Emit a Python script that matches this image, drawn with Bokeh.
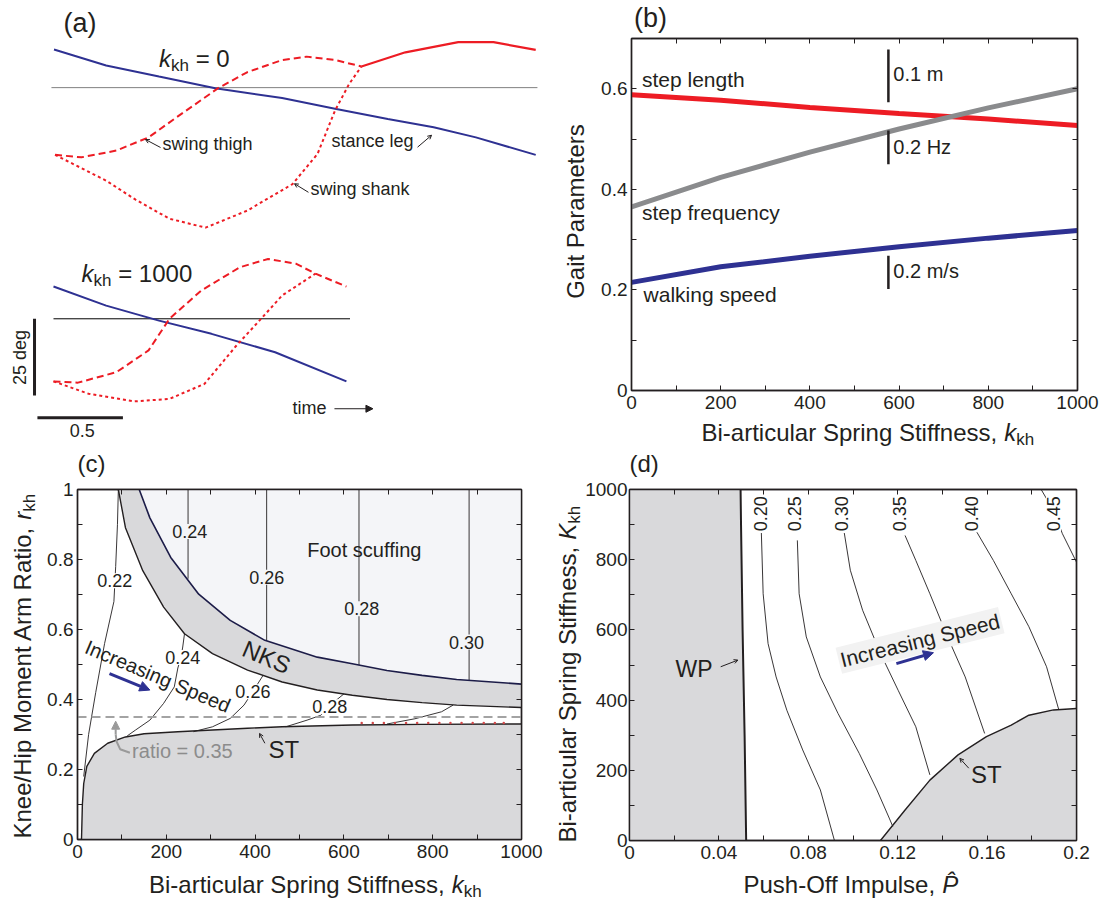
import numpy as np
from bokeh.plotting import figure
from bokeh.layouts import column, row
from bokeh.models import Range1d, Label, Arrow, NormalHead, OpenHead, FixedTicker, LinearAxis
from bokeh.embed import file_html
from bokeh.resources import INLINE

FONT = "Liberation Sans"
INK = "#231f20"
RED = "#ed1c24"
BLUE = "#2e3192"
GREY_LINE = "#8a8b8d"
GRAY_FILL = "#d9d9db"
SCUFF_FILL = "#f4f5f8"

# ---------------- panel (a): joint angle traces (time units, degrees) ----------------
TOP_OFF = 75.3  # vertical offset of the k_kh = 0 traces (deg)
a0_stance_t = [0.003, 0.308, 0.617, 0.946, 1.337, 1.646, 1.955, 2.223, 2.470, 2.820]
a0_stance_d = [12.4, 7.2, 3.6, -0.2, -3.4, -6.9, -10.2, -12.9, -16.2, -21.9]
a0_thigh_t = [0.009, 0.164, 0.368, 0.556, 0.719, 0.965, 1.132, 1.337, 1.480, 1.646, 1.801]
a0_thigh_d = [-21.9, -22.7, -20.5, -16.2, -9.7, -0.1, 5.0, 9.0, 10.1, 9.0, 6.9]
a0_locked_t = [1.801, 2.058, 2.367, 2.573, 2.820]
a0_locked_d = [6.9, 11.5, 14.8, 14.8, 12.3]
a0_shank_t = [0.009, 0.308, 0.48, 0.678, 0.889, 1.132, 1.398, 1.544, 1.646, 1.729, 1.801]
a0_shank_d = [-21.9, -30.3, -36.5, -42.7, -45.6, -40.1, -31.4, -21.6, -7.5, 1.2, 6.9]

a1_stance_t = [0, 0.308, 0.617, 0.924, 1.296, 1.713]
a1_stance_d = [10.5, 4.3, -0.6, -4.9, -10.9, -20.4]
a1_thigh_t = [0, 0.143, 0.368, 0.556, 0.678, 0.864, 1.090, 1.255, 1.420, 1.532, 1.713]
a1_thigh_d = [-20.4, -20.8, -17.4, -10.3, 0, 9.2, 16.8, 19.5, 17.9, 14.7, 10.5]
a1_shank_t = [0, 0.205, 0.473, 0.678, 0.883, 1.070, 1.214, 1.337, 1.532]
a1_shank_d = [-20.4, -24.4, -26.9, -26.1, -21.2, -8.7, 0, 7.6, 14.7]

# ---------------- panel (b): gait parameters ----------------
b_k = [0, 200, 400, 600, 800, 1000]
step_length = [0.588, 0.577, 0.563, 0.551, 0.540, 0.527]
step_freq = [0.365, 0.424, 0.474, 0.520, 0.562, 0.600]
walk_speed = [0.215, 0.246, 0.267, 0.286, 0.303, 0.318]
b_bar_x = 576
b_bars = [(0.573, 0.678, "0.1 m", 0.630), (0.450, 0.517, "0.2 Hz", 0.484), (0.202, 0.268, "0.2 m/s", 0.237)]

# ---------------- panel (c): k_kh vs r_kh ----------------
st_c_k = [9, 11, 14, 21, 38, 68, 108, 150, 226, 304, 383, 461, 619, 776, 1000]
st_c_r = [0, 0.10, 0.16, 0.209, 0.246, 0.275, 0.293, 0.302, 0.308, 0.313, 0.318, 0.322, 0.327, 0.329, 0.330]
nks_lo_k = [92, 108, 147, 194, 241, 304, 383, 461, 540, 619, 697, 776, 854, 1000]
nks_lo_r = [1.0, 0.891, 0.768, 0.664, 0.588, 0.531, 0.484, 0.450, 0.427, 0.412, 0.400, 0.391, 0.384, 0.377]
nks_hi_k = [139, 163, 210, 273, 344, 422, 540, 619, 697, 776, 854, 1000]
nks_hi_r = [1.0, 0.919, 0.806, 0.701, 0.626, 0.569, 0.521, 0.502, 0.483, 0.469, 0.457, 0.444]
c_contours = [
    ([92, 90, 86, 82, 61, 41, 25, 14], [1.0, 0.90, 0.78, 0.68, 0.56, 0.42, 0.30, 0.18]),
    ([249, 249], [1.0, 0.745]),
    ([241, 237, 233, 226, 218, 194, 163, 131, 112], [0.588, 0.55, 0.52, 0.49, 0.436, 0.389, 0.341, 0.313, 0.296]),
    ([426, 426], [1.0, 0.567]),
    ([418, 397, 375, 344, 304, 261], [0.469, 0.427, 0.384, 0.346, 0.322, 0.308]),
    ([634, 634], [1.0, 0.498]),
    ([469, 517, 548, 575, 600], [0.322, 0.341, 0.355, 0.39, 0.416]),
    ([882, 882], [1.0, 0.455]),
    ([697, 760, 820, 846], [0.330, 0.345, 0.365, 0.384]),
]
c_labels = [("0.22", 84, 0.739, "white"), ("0.24", 253, 0.88, SCUFF_FILL), ("0.24", 237, 0.52, "white"),
            ("0.26", 426, 0.749, SCUFF_FILL), ("0.26", 395, 0.422, "white"), ("0.28", 640, 0.659, SCUFF_FILL),
            ("0.28", 568, 0.379, "white"), ("0.30", 876, 0.564, SCUFF_FILL)]
ratio_line = 0.35
c_dots_k = [640, 665, 690, 715, 740, 765, 790, 815, 840, 865, 890, 915, 940, 960]
c_dots_r = [0.333] * len(c_dots_k)

# ---------------- panel (d): P vs K_kh ----------------
wp_P = [0.0497, 0.0499, 0.0506, 0.0515, 0.0522]
wp_K = [1000, 900, 600, 300, 0]
st_d_P = [0.1123, 0.1233, 0.1344, 0.1470, 0.1597, 0.1708, 0.1787, 0.1897, 0.2]
st_d_K = [0, 87, 172, 244, 296, 329, 357, 372, 376]
d_contours = [
    ([0.0590, 0.0598, 0.0620, 0.0656, 0.0704, 0.0775, 0.0854, 0.0917], [876, 703, 561, 466, 371, 258, 144, 0]),
    ([0.0751, 0.0759, 0.0791, 0.0854, 0.0933, 0.1028, 0.1107, 0.1162, 0.1178], [855, 703, 580, 466, 362, 248, 144, 64, 40]),
    ([0.0961, 0.0988, 0.1043, 0.1123, 0.1202, 0.1281, 0.1344], [876, 770, 656, 533, 428, 324, 187]),
    ([0.1233, 0.1281, 0.1344, 0.1423, 0.1502, 0.1589], [869, 798, 703, 580, 466, 305]),
    ([0.1550, 0.1628, 0.1708, 0.1787, 0.1866, 0.1921], [883, 798, 703, 609, 495, 372]),
    ([0.1842, 0.1897, 0.1937, 0.2], [1000, 940, 874, 793]),
]
d_labels = [("0.20", 0.0585), ("0.25", 0.0740), ("0.30", 0.0949), ("0.35", 0.1209), ("0.40", 0.1529), ("0.45", 0.1897)]
d_label_K = 931

# ---------------- helpers ----------------
W = {' ': 278, ',': 278, '-': 333, '/': 278, '=': 584, '.': 278, 'a': 556, 'b': 556, 'c': 500, 'd': 556,
     'e': 556, 'f': 278, 'g': 556, 'h': 556, 'i': 222, 'k': 500, 'l': 222, 'm': 833, 'n': 556, 'o': 556,
     'p': 556, 'r': 333, 's': 500, 't': 278, 'u': 556, 'w': 722, 'A': 667, 'B': 667, 'H': 722, 'I': 278,
     'K': 667, 'M': 833, 'O': 778, 'P': 667, 'R': 722, 'S': 667}


def tw(s, size):
    return sum(W.get(c, 556) for c in s) * size / 1000.0


def L(p, x, y, text, size, align="left", baseline="middle", angle=0, color=INK, style="normal",
      xo=0, yo=0, bg=None, pad=0):
    kw = dict(x=x, y=y, text=text, text_font=FONT, text_font_size=f"{size}px", text_align=align,
              text_baseline=baseline, angle=angle, text_color=color, text_font_style=style,
              x_offset=xo, y_offset=yo)
    if bg is not None:
        kw.update(background_fill_color=bg, padding=pad)
    p.add_layout(Label(**kw))


def composite(p, x, y, parts, angle=0):
    off = 0.0
    for text, size, style, shift in parts:
        body = text.lstrip(" ")
        off += tw(text[:len(text) - len(body)], size)
        if angle == 0:
            xo, yo = off, shift
        else:
            xo, yo = -shift, off
        L(p, x, y, body.rstrip(" "), size, baseline="middle", angle=angle, style=style, xo=xo, yo=yo)
        off += tw(body, size)


def arrow(p, x0, y0, x1, y1, color=INK, lw=1.0, size=6, kind="open"):
    if kind == "open":
        head = OpenHead(size=size, line_color=color, line_width=lw)
    else:
        head = NormalHead(size=size, fill_color=color, line_color=color)
    p.add_layout(Arrow(end=head, x_start=x0, y_start=y0, x_end=x1, y_end=y1,
                       line_color=color, line_width=lw))


def bare(w, h, xr, yr, left=0, right=0):
    p = figure(width=w, height=h, x_range=Range1d(*xr), y_range=Range1d(*yr),
               output_backend="svg", toolbar_location=None,
               min_border_left=left, min_border_right=right, min_border_top=0, min_border_bottom=0,
               x_axis_location=None, y_axis_location=None)
    p.grid.visible = False
    p.outline_line_color = None
    p.background_fill_color = "white"
    p.border_fill_color = "white"
    return p


def make_fig(w, h, xr, yr, left, right, top, bottom):
    p = figure(width=w, height=h, x_range=Range1d(*xr), y_range=Range1d(*yr),
               output_backend="svg", toolbar_location=None,
               min_border_left=left, min_border_right=right,
               min_border_top=top, min_border_bottom=bottom)
    p.grid.visible = False
    p.background_fill_color = "white"
    p.border_fill_color = "white"
    return p


def style_axes(p, xt, xminor, xlab, yt, yminor, ylab, ystand=4):
    p.xaxis.ticker = FixedTicker(ticks=xt, minor_ticks=xminor)
    p.yaxis.ticker = FixedTicker(ticks=yt, minor_ticks=yminor)
    p.xaxis.major_label_overrides = dict(zip(xt, xlab))
    p.yaxis.major_label_overrides = dict(zip(yt, ylab))
    for ax in p.axis:
        ax.major_tick_in = 5
        ax.major_tick_out = 0
        ax.minor_tick_in = 5
        ax.minor_tick_out = 0
        ax.axis_line_color = INK
        ax.axis_line_width = 1.4
        ax.major_tick_line_color = INK
        ax.minor_tick_line_color = INK
        ax.major_label_text_font = FONT
        ax.major_label_text_font_size = "19px"
        ax.major_label_text_color = INK
    p.xaxis.major_label_standoff = 5
    p.yaxis.major_label_standoff = ystand
    for loc, ticks, minor in (("above", xt, xminor), ("right", yt, yminor)):
        ax = LinearAxis(ticker=FixedTicker(ticks=ticks, minor_ticks=minor),
                        major_label_overrides={t: "" for t in ticks},
                        major_label_text_font_size="0px",
                        major_tick_in=5, major_tick_out=0, minor_tick_in=5, minor_tick_out=0,
                        axis_line_color=INK, axis_line_width=1.4,
                        major_tick_line_color=INK, minor_tick_line_color=INK,
                        major_label_standoff=0)
        p.add_layout(ax, loc)
    p.outline_line_color = INK
    p.outline_line_width = 1.4


SUB = -7
SUBK = [("k", 24, "italic", 0), ("kh", 17, "normal", SUB)]
BIART = ("Bi-articular Spring Stiffness, ", 24, "normal", 0)

# ================= panel (a) =================
pa = bare(556, 448, (-0.3099, 2.9415), (-42.25, 103.68))
top = np.array
pa.line([-0.012, 2.83], [TOP_OFF, TOP_OFF], line_color="#808080", line_width=1)
pa.line([0.0, 1.734], [0, 0], line_color="black", line_width=1)
pa.line(a0_stance_t, top(a0_stance_d) + TOP_OFF, line_color=BLUE, line_width=2)
pa.line(a0_thigh_t, top(a0_thigh_d) + TOP_OFF, line_color=RED, line_width=2, line_dash="7 4")
pa.line(a0_shank_t, top(a0_shank_d) + TOP_OFF, line_color=RED, line_width=2, line_dash="3 3")
pa.line(a0_locked_t, top(a0_locked_d) + TOP_OFF, line_color=RED, line_width=2.2)
pa.line(a1_stance_t, a1_stance_d, line_color=BLUE, line_width=2)
pa.line(a1_thigh_t, a1_thigh_d, line_color=RED, line_width=2, line_dash="7 4")
pa.line(a1_shank_t, a1_shank_d, line_color=RED, line_width=2, line_dash="3 3")
pa.line([-0.111, -0.111], [0, -25], line_color=INK, line_width=3)
pa.line([-0.094, 0.406], [-32.2, -32.2], line_color=INK, line_width=3)
L(pa, 0.168, -36.5, "0.5", 18, align="center")
L(pa, -0.195, -12.6, "25 deg", 18, align="center", angle=np.pi / 2)
L(pa, 1.398, -28.9, "time", 18)
arrow(pa, 1.643, -29.3, 1.868, -29.3, lw=1, size=7, kind="normal")
L(pa, 0.058, 96.5, "(a)", 27)
composite(pa, 0.617, 84.7, SUBK + [(" = 0", 24, "normal", 0)])
composite(pa, 0.164, 14.7, SUBK + [(" = 1000", 24, "normal", 0)])
L(pa, 0.637, 56.9, "swing thigh", 18)
L(pa, 1.626, 57.9, "stance leg", 18)
L(pa, 1.503, 42.2, "swing shank", 18)
arrow(pa, 0.626, 55.8, 0.538, 58.4, size=4)
arrow(pa, 2.129, 55.9, 2.211, 59.8, size=4)
arrow(pa, 1.491, 41.2, 1.409, 44.0, size=4)

# ================= panel (b) =================
ylab_b = bare(40, 448, (0, 40), (0, 448))
L(ylab_b, 19, 237, "Gait Parameters", 24, align="center", angle=np.pi / 2)
letter_b = bare(504, 36, (0, 1000), (0, 36), 35, 23)
L(letter_b, 5.6, 18.5, "(b)", 27)
pb = make_fig(504, 384, (0, 1000), (0, 0.7), 35, 23, 2, 30)
style_axes(pb, [0, 200, 400, 600, 800, 1000], [100, 300, 500, 700, 900],
           ["0", "200", "400", "600", "800", "1000"],
           [0, 0.2, 0.4, 0.6], [0.1, 0.3, 0.5], ["0", "0.2", "0.4", "0.6"])
pb.line(b_k, step_length, line_color=RED, line_width=5, line_cap="round")
pb.line(b_k, step_freq, line_color=GREY_LINE, line_width=5, line_cap="round")
pb.line(b_k, walk_speed, line_color=BLUE, line_width=5, line_cap="round")
for y0, y1, txt, ty in b_bars:
    pb.line([b_bar_x, b_bar_x], [y0, y1], line_color=INK, line_width=2.5)
    L(pb, 587, ty, txt, 20)
L(pb, 23.5, 0.618, "step length", 21)
L(pb, 23.5, 0.353, "step frequency", 21)
L(pb, 27, 0.190, "walking speed", 21)
xlab_b = bare(504, 28, (0, 1000), (0, 28), 35, 23)
composite(xlab_b, 157, 15.6, [BIART] + SUBK)
panel_b = row(ylab_b, column(letter_b, pb, xlab_b))

# ================= panel (c) =================
ylab_c = bare(44, 452, (0, 44), (0, 452))
composite(ylab_c, 21.6, 62, [("Knee/Hip Moment Arm Ratio, ", 24, "normal", 0),
                             ("r", 24, "italic", 0), ("kh", 17, "normal", SUB)], angle=np.pi / 2)
letter_c = bare(508, 29, (0, 1000), (0, 29), 32, 31)
L(letter_c, 0, 14.5, "(c)", 24)
pc = make_fig(508, 392, (0, 1000), (0, 1), 32, 31, 12, 30)
style_axes(pc, [0, 200, 400, 600, 800, 1000], [100, 300, 500, 700, 900],
           ["0", "200", "400", "600", "800", "1000"],
           [0, 0.2, 0.4, 0.6, 0.8, 1], [0.1, 0.3, 0.5, 0.7, 0.9], ["0", "0.2", "0.4", "0.6", "0.8", "1"])
pc.patch(nks_hi_k + [1000], nks_hi_r + [1.0], fill_color=SCUFF_FILL, line_color=None)
pc.patch(nks_lo_k + nks_hi_k[::-1], nks_lo_r + nks_hi_r[::-1], fill_color=GRAY_FILL, line_color=None)
pc.patch(st_c_k + [1000, st_c_k[0]], st_c_r + [0, 0], fill_color=GRAY_FILL, line_color=None)
for ks, rs in c_contours:
    pc.line(ks, rs, line_color=INK, line_width=0.9)
pc.line(st_c_k, st_c_r, line_color=INK, line_width=1.4)
pc.line(nks_lo_k, nks_lo_r, line_color=INK, line_width=1.4)
pc.line(nks_hi_k, nks_hi_r, line_color="#1c1c48", line_width=1.6)
pc.scatter(c_dots_k, c_dots_r, size=2.5, color="#d2484a", line_color=None)
pc.line([0, 1000], [ratio_line, ratio_line], line_color="#a3a3a3", line_width=2, line_dash="9 5")
for txt, k, r, bg in c_labels:
    L(pc, k, r, txt, 18, align="center", bg=bg, pad=1)
L(pc, 646, 0.827, "Foot scuffing", 20, align="center")
L(pc, 426, 0.521, "NKS", 24, align="center", angle=-0.40)
L(pc, 181, 0.466, "Increasing Speed", 20, align="center", angle=-0.40)
arrow(pc, 72, 0.474, 163, 0.427, color=BLUE, lw=3, size=10, kind="normal")
L(pc, 123, 0.252, "ratio = 0.35", 20, color="#8c8c8c")
pc.line([118, 96, 88, 86], [0.248, 0.258, 0.28, 0.30], line_color="#9a9a9a", line_width=2)
arrow(pc, 86, 0.30, 86, 0.338, color="#9a9a9a", lw=2, size=8, kind="normal")
L(pc, 430, 0.256, "ST", 24)
arrow(pc, 422, 0.275, 410, 0.303, size=4)
xlab_c = bare(508, 31, (0, 1000), (0, 31), 32, 31)
composite(xlab_c, 161, 16, [BIART] + SUBK)
panel_c = row(ylab_c, column(letter_c, pc, xlab_c))

# ================= panel (d) =================
ylab_d = bare(30, 452, (0, 30), (0, 452))
composite(ylab_d, 14.5, 58, [BIART, ("K", 24, "italic", 0), ("kh", 17, "normal", SUB)], angle=np.pi / 2)
letter_d = bare(518, 29, (0, 0.2), (0, 29), 46, 24)
L(letter_d, 0.0, 14.5, "(d)", 24)
pd = make_fig(518, 392, (0, 0.2), (0, 1000), 46, 24, 12, 29)
style_axes(pd, [0, 0.04, 0.08, 0.12, 0.16, 0.2], [0.02, 0.06, 0.1, 0.14, 0.18],
           ["0", "0.04", "0.08", "0.12", "0.16", "0.2"],
           [0, 200, 400, 600, 800, 1000], [100, 300, 500, 700, 900],
           ["0", "200", "400", "600", "800", "1000"], ystand=2)
pd.patch([0] + wp_P + [0], [1000] + wp_K + [0], fill_color=GRAY_FILL, line_color=None)
pd.patch(st_d_P + [0.2], st_d_K + [0], fill_color=GRAY_FILL, line_color=None)
for ps, ks in d_contours:
    pd.line(ps, ks, line_color=INK, line_width=0.9)
pd.line(wp_P, wp_K, line_color=INK, line_width=2)
pd.line(st_d_P, st_d_K, line_color=INK, line_width=1.4)
for txt, P in d_labels:
    L(pd, P, d_label_K, txt, 18, align="center", angle=np.pi / 2, bg="white", pad=1)
L(pd, 0.0289, 490, "WP", 23, align="center")
arrow(pd, 0.0408, 495, 0.0485, 514, size=4)
L(pd, 0.1597, 187, "ST", 24, align="center")
arrow(pd, 0.1518, 206, 0.1478, 234, size=4)
L(pd, 0.130, 570, "Increasing Speed", 21, align="center", angle=0.245, bg="#f2f2f2", pad=2)
arrow(pd, 0.1194, 504, 0.136, 535, color=BLUE, lw=3, size=10, kind="normal")
xlab_d = bare(518, 31, (0, 0.2), (0, 31), 46, 24)
composite(xlab_d, 0.051, 16, [("Push-Off Impulse, ", 24, "normal", 0), ("P\u0302", 24, "italic", 0)])
panel_d = row(ylab_d, column(letter_d, pd, xlab_d))

layout = column(row(pa, panel_b), row(panel_c, panel_d))
open("out.html", "w").write(file_html(layout, INLINE))
